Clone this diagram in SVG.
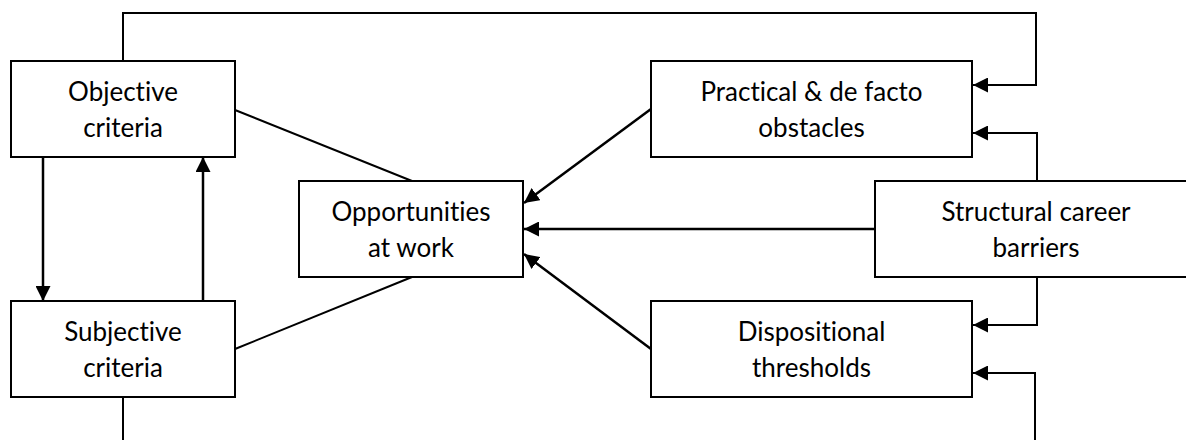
<svg xmlns="http://www.w3.org/2000/svg" width="1186" height="440" viewBox="0 0 1186 440">
<style>
.box{fill:#fff;stroke:#000;stroke-width:2}
.lbl{font-family:Lato,"Open Sans","Liberation Sans",sans-serif;font-size:26px;fill:#000;text-anchor:middle;font-variant-ligatures:none}
.ln{fill:none;stroke:#000;stroke-width:2}
.ar{fill:none;stroke:#000;stroke-width:2.5;marker-end:url(#ah)}
.ar2{fill:none;stroke:#000;stroke-width:2;marker-end:url(#ah)}
</style>
<defs>
<marker id="ah" viewBox="0 0 10 10" refX="10" refY="5" markerWidth="15" markerHeight="15" markerUnits="userSpaceOnUse" orient="auto">
<path d="M0,0 L10,5 L0,10 z" fill="#000"/>
</marker>
</defs>
<rect width="1186" height="440" fill="#fff"/>
<g id="connectors">
<path class="ar2" d="M123,61 V13 H1036 V85 H973"/>
<path class="ar2" d="M1037,181 V133 H973"/>
<path class="ar2" d="M1037,277 V325 H973"/>
<path class="ar2" d="M123,397 V440 M1035,440 V373 H973"/>
<path class="ar" d="M43,157 V301"/>
<path class="ar" d="M203,301 V157"/>
<path class="ln" d="M235,110 L412,181"/>
<path class="ln" d="M235,349 L412,277"/>
<path class="ar" d="M651,109 L524,203"/>
<path class="ar" d="M875,229 H524"/>
<path class="ar" d="M651,349 L524,254"/>
</g>
<g id="objective">
<rect class="box" x="11" y="61" width="224" height="96"/>
<text class="lbl" x="123" y="101">Objective</text>
<text class="lbl" x="123" y="137">criteria</text>
</g>
<g id="subjective">
<rect class="box" x="11" y="301" width="224" height="96"/>
<text class="lbl" x="123" y="341">Subjective</text>
<text class="lbl" x="123" y="377">criteria</text>
</g>
<g id="opportunities">
<rect class="box" x="299" y="181" width="224" height="96"/>
<text class="lbl" x="411" y="221">Opportunities</text>
<text class="lbl" x="411" y="257">at work</text>
</g>
<g id="practical">
<rect class="box" x="651" y="61" width="321" height="96"/>
<text class="lbl" x="811.5" y="101">Practical &amp; de facto</text>
<text class="lbl" x="811.5" y="137">obstacles</text>
</g>
<g id="structural">
<rect class="box" x="875" y="181" width="322" height="96"/>
<text class="lbl" x="1036" y="221">Structural career</text>
<text class="lbl" x="1036" y="257">barriers</text>
</g>
<g id="dispositional">
<rect class="box" x="651" y="301" width="321" height="96"/>
<text class="lbl" x="811.5" y="341">Dispositional</text>
<text class="lbl" x="811.5" y="377">thresholds</text>
</g>
</svg>
